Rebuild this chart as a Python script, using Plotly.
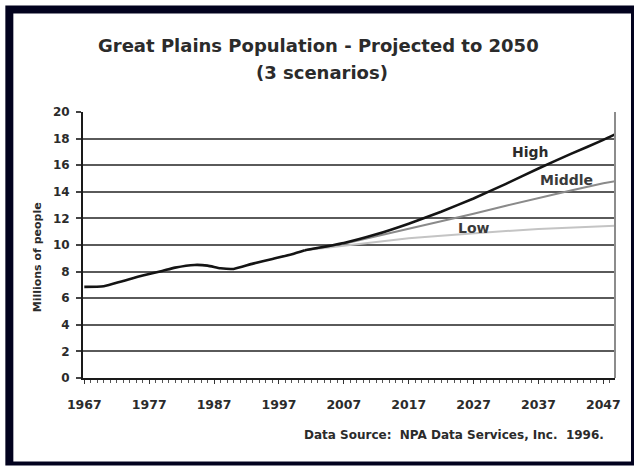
import plotly.graph_objects as go

# ---- data (millions of people) ----
hist_years = [1967, 1970, 1973, 1976, 1979, 1981, 1984, 1986, 1988, 1990, 1993, 1996, 1999, 2001]
hist_vals = [6.85, 6.9, 7.3, 7.7, 8.05, 8.3, 8.5, 8.45, 8.25, 8.2, 8.6, 8.95, 9.3, 9.6]

proj_years = [2001, 2007, 2012, 2017, 2022, 2027, 2032, 2037, 2042, 2047, 2050]
high_vals = [9.6, 10.15, 10.8, 11.6, 12.5, 13.5, 14.6, 15.75, 16.85, 17.9, 18.6]
middle_vals = [9.6, 10.1, 10.65, 11.2, 11.8, 12.35, 12.95, 13.55, 14.1, 14.65, 14.9]
low_vals = [9.6, 9.95, 10.25, 10.5, 10.7, 10.9, 11.05, 11.2, 11.32, 11.42, 11.47]

x_ticks = [1967, 1977, 1987, 1997, 2007, 2017, 2027, 2037, 2047]
y_ticks = [0, 2, 4, 6, 8, 10, 12, 14, 16, 18, 20]

W, H = 634, 466
L, R, T, B = 82.7, 615.0, 111.7, 378.3  # plot area in pixels


def px(x):
    return (x - L) / (R - L)


def py(y):
    return (B - y) / (B - T)


TXT = "#2b2b2b"
FONT = "DejaVu Sans"

fig = go.Figure()
fig.add_trace(go.Scatter(x=proj_years, y=low_vals, mode="lines",
                         line=dict(color="#c4c4c4", width=2), hoverinfo="skip"))
fig.add_trace(go.Scatter(x=proj_years, y=middle_vals, mode="lines",
                         line=dict(color="#8a8a8a", width=2), hoverinfo="skip"))
fig.add_trace(go.Scatter(x=proj_years, y=high_vals, mode="lines",
                         line=dict(color="#141414", width=2.6, shape="spline", smoothing=0.4),
                         hoverinfo="skip"))
fig.add_trace(go.Scatter(x=hist_years, y=hist_vals, mode="lines",
                         line=dict(color="#141414", width=2.6, shape="spline", smoothing=0.6),
                         hoverinfo="skip"))

shapes = [
    # dark frame around the whole figure
    dict(type="rect", xref="paper", yref="paper", x0=px(5), x1=px(634), y0=py(466), y1=py(5),
         fillcolor="#02021e", line=dict(width=0), layer="below"),
    dict(type="rect", xref="paper", yref="paper", x0=px(13), x1=px(631), y0=py(462), y1=py(13),
         fillcolor="white", line=dict(width=0), layer="below"),
    # right border of plot area
    dict(type="line", xref="paper", yref="paper", x0=1, x1=1, y0=0, y1=1,
         line=dict(color="#8c8c8c", width=2)),
]

annotations = [
    dict(text="<b>Great Plains Population - Projected to 2050</b>", xref="paper", yref="paper",
         x=px(318), y=py(45), showarrow=False, font=dict(family=FONT, size=18, color=TXT),
         xanchor="center", yanchor="middle"),
    dict(text="<b>(3 scenarios)</b>", xref="paper", yref="paper",
         x=px(322), y=py(72), showarrow=False, font=dict(family=FONT, size=18, color=TXT),
         xanchor="center", yanchor="middle"),
    dict(text="<b>Millions of people</b>", xref="paper", yref="paper",
         x=px(38), y=py(257), showarrow=False, textangle=-90,
         font=dict(family=FONT, size=11, color=TXT), xanchor="center", yanchor="middle"),
    dict(text="<b>Data Source:  NPA Data Services, Inc.  1996.</b>", xref="paper", yref="paper",
         x=px(606), y=py(435), showarrow=False, font=dict(family=FONT, size=12, color=TXT),
         xanchor="right", yanchor="middle"),
    dict(text="<b>High</b>", x=2035.7, y=17.0, showarrow=False,
         font=dict(family=FONT, size=14, color=TXT), xanchor="center", yanchor="middle"),
    dict(text="<b>Middle</b>", x=2041.3, y=14.9, showarrow=False,
         font=dict(family=FONT, size=14, color="#3a3a3a"), xanchor="center", yanchor="middle"),
    dict(text="<b>Low</b>", x=2027.1, y=11.3, showarrow=False,
         font=dict(family=FONT, size=14, color="#3a3a3a"), xanchor="center", yanchor="middle"),
]

fig.update_layout(
    width=W, height=H,
    margin=dict(l=L, r=W - R, t=T, b=H - B, pad=0),
    paper_bgcolor="white", plot_bgcolor="white",
    showlegend=False,
    shapes=shapes, annotations=annotations,
    xaxis=dict(range=[1966.8, 2048.8], tickvals=x_ticks, ticktext=[str(v) for v in x_ticks],
               showgrid=False, zeroline=False, showline=True, linecolor="#1a1a1a", linewidth=2,
               ticks="outside", ticklen=4, tickwidth=1, tickcolor="#333",
               minor=dict(dtick=1, tick0=1967, ticks="outside", ticklen=3, tickwidth=1, tickcolor="#555"),
               tickfont=dict(family=FONT, size=12.5, color=TXT, weight="bold"), ticklabelstandoff=10),
    yaxis=dict(range=[0, 20], tickvals=y_ticks, showgrid=True, gridcolor="#5a5a5a", gridwidth=2,
               zeroline=False, showline=True, linecolor="#1a1a1a", linewidth=2,
               ticks="outside", ticklen=5, tickwidth=2, tickcolor="#444",
               tickfont=dict(family=FONT, size=12, color=TXT, weight="bold"), ticklabelstandoff=4),
)

fig.write_html("out.html")
